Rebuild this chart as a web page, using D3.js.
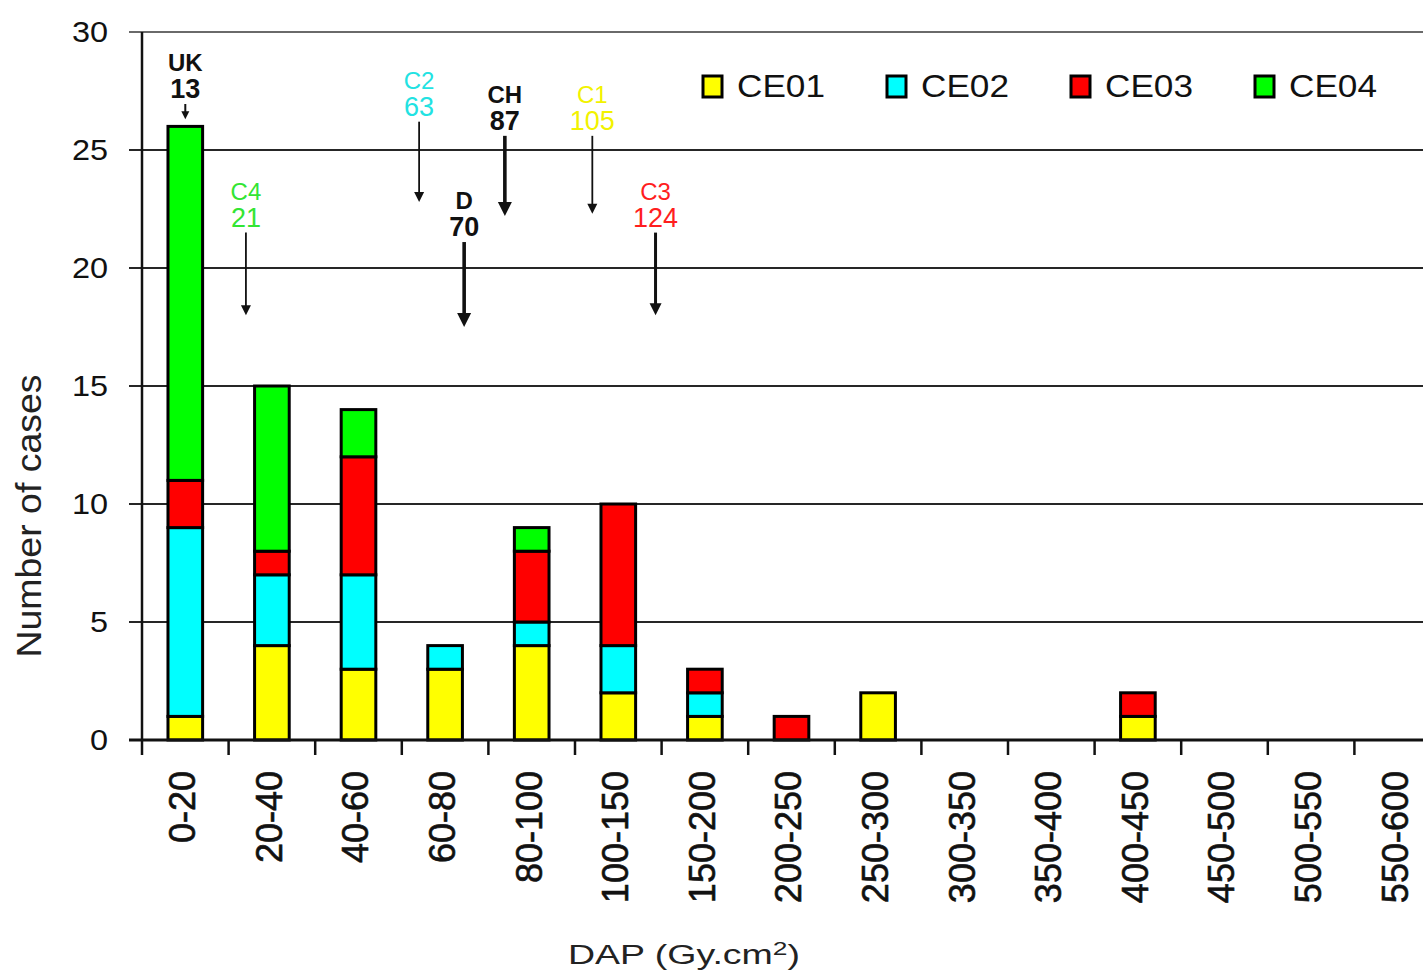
<!DOCTYPE html>
<html>
<head>
<meta charset="utf-8">
<script src="https://cdn.jsdelivr.net/npm/d3@7/dist/d3.min.js"></script>
<style>
  html, body { margin: 0; padding: 0; background: #fff; }
  svg { display: block; }
  text { font-family: "Liberation Sans", Arial, sans-serif; }
</style>
</head>
<body>
<svg id="chart" width="1423" height="977"></svg>
<script>
// DAP bins (Gy.cm²)
const categories = ["0-20", "20-40", "40-60", "60-80", "80-100", "100-150", "150-200",
  "200-250", "250-300", "300-350", "350-400", "400-450", "450-500", "500-550", "550-600"];

// Number of cases per centre
const seriesNames = ["CE01", "CE02", "CE03", "CE04"];
const ce01 = [1, 4, 3, 3, 4, 2, 1, 0, 2, 0, 0, 1, 0, 0, 0];
const ce02 = [8, 3, 4, 1, 1, 2, 1, 0, 0, 0, 0, 0, 0, 0, 0];
const ce03 = [2, 1, 5, 0, 3, 6, 1, 1, 0, 0, 0, 1, 0, 0, 0];
const ce04 = [15, 7, 2, 0, 1, 0, 0, 0, 0, 0, 0, 0, 0, 0, 0];
const seriesColors = ["#ffff00", "#00ffff", "#ff0000", "#00ff00"];

const yTicks = [0, 5, 10, 15, 20, 25, 30];

// National reference levels (code, DAP value)
const refCodes = ["UK", "C4", "C2", "D", "CH", "C1", "C3"];
const refValues = [13, 21, 63, 70, 87, 105, 124];
const refColors = ["#111111", "#33e533", "#22e2e2", "#111111", "#111111", "#f2f200", "#ff1e1e"];

// Where each reference arrow sits: bin, fraction across the bin, arrow extent in case units
const refLayout = [
  { bin: "0-20",    frac: 0.50, yTop: 26.95, yEnd: 26.3, w: 2,   head: 8 },
  { bin: "20-40",   frac: 0.20, yTop: 21.5,  yEnd: 18.0, w: 1.8, head: 10 },
  { bin: "60-80",   frac: 0.20, yTop: 26.2,  yEnd: 22.8, w: 1.8, head: 10 },
  { bin: "60-80",   frac: 0.72, yTop: 21.1,  yEnd: 17.5, w: 3.6, head: 14 },
  { bin: "80-100",  frac: 0.19, yTop: 25.6,  yEnd: 22.2, w: 3.6, head: 14 },
  { bin: "100-150", frac: 0.20, yTop: 25.6,  yEnd: 22.3, w: 1.8, head: 10 },
  { bin: "100-150", frac: 0.93, yTop: 21.5,  yEnd: 18.0, w: 3.0, head: 12 }
];

const svg = d3.select("#chart");
svg.append("rect").attr("width", 1423).attr("height", 977).attr("fill", "#fff");

const plotLeft = 142, plotRight = 1441, plotTop = 32, plotBottom = 740;

const x = d3.scaleBand().domain(categories).range([plotLeft, plotRight])
  .paddingInner(0.6).paddingOuter(0.3);
const y = d3.scaleLinear().domain([0, 30]).range([plotBottom, plotTop]);
const binStart = c => x(c) - x.step() * 0.3;

// Horizontal grid lines with short ticks left of the axis
svg.append("g").selectAll("line").data(yTicks.filter(v => v > 0)).join("line")
  .attr("x1", 129).attr("x2", 1423)
  .attr("y1", d => y(d)).attr("y2", d => y(d))
  .attr("stroke", d => d === 30 ? "#6a6a6a" : "#262626")
  .attr("stroke-width", 2);

// Y tick labels
svg.append("g").selectAll("text").data(yTicks).join("text")
  .attr("transform", d => `translate(108,${y(d) + 10}) scale(1.12,1)`)
  .attr("text-anchor", "end")
  .attr("font-size", 29)
  .attr("fill", "#111")
  .text(d => d);

// Y axis title
svg.append("text")
  .attr("transform", "translate(41,516) rotate(-90)")
  .attr("text-anchor", "middle")
  .attr("font-size", 35)
  .attr("fill", "#222")
  .attr("textLength", 283)
  .attr("lengthAdjust", "spacingAndGlyphs")
  .text("Number of cases");

// Stacked bars
const rows = categories.map((c, i) => ({ cat: c, CE01: ce01[i], CE02: ce02[i], CE03: ce03[i], CE04: ce04[i] }));
const stacked = d3.stack().keys(seriesNames)(rows);
const color = d3.scaleOrdinal().domain(seriesNames).range(seriesColors);

svg.append("g").selectAll("g").data(stacked).join("g")
  .attr("fill", d => color(d.key))
  .selectAll("rect").data(d => d.filter(s => s[1] - s[0] > 0)).join("rect")
  .attr("x", d => x(d.data.cat))
  .attr("width", x.bandwidth())
  .attr("y", d => y(d[1]))
  .attr("height", d => y(d[0]) - y(d[1]))
  .attr("stroke", "#000")
  .attr("stroke-width", 3);

// Y axis line
svg.append("line").attr("x1", plotLeft).attr("x2", plotLeft).attr("y1", plotTop).attr("y2", 755)
  .attr("stroke", "#111").attr("stroke-width", 2.5);

// X axis line
svg.append("line").attr("x1", 129).attr("x2", 1423).attr("y1", plotBottom).attr("y2", plotBottom)
  .attr("stroke", "#111").attr("stroke-width", 3);

// X ticks at bin boundaries
svg.append("g").selectAll("line").data(categories.slice(1)).join("line")
  .attr("x1", d => binStart(d)).attr("x2", d => binStart(d))
  .attr("y1", plotBottom).attr("y2", 755)
  .attr("stroke", "#111").attr("stroke-width", 2.5);

// X tick labels (rotated)
svg.append("g").selectAll("text").data(categories).join("text")
  .attr("transform", d => `translate(${x(d) + x.bandwidth() / 2 - 3},771) rotate(-90)`)
  .attr("text-anchor", "end")
  .attr("dy", "0.36em")
  .attr("font-size", 36)
  .attr("fill", "#111")
  .attr("stroke", "#111")
  .attr("stroke-width", 0.6)
  .text(d => d);

// X axis title
const xt = svg.append("text")
  .attr("x", 568).attr("y", 964)
  .attr("font-size", 27)
  .attr("fill", "#222")
  .attr("textLength", 232)
  .attr("lengthAdjust", "spacingAndGlyphs");
xt.append("tspan").text("DAP (Gy.cm");
xt.append("tspan").attr("dy", -9).attr("font-size", 19).text("2");
xt.append("tspan").attr("dy", 9).text(")");

// Legend
const legend = svg.append("g").selectAll("g").data(seriesNames).join("g")
  .attr("transform", (d, i) => `translate(${703 + i * 184},76)`);
legend.append("rect").attr("width", 19).attr("height", 21)
  .attr("fill", d => color(d)).attr("stroke", "#000").attr("stroke-width", 3);
legend.append("text").attr("x", 34).attr("y", 21)
  .attr("font-size", 31).attr("fill", "#111")
  .attr("textLength", 88).attr("lengthAdjust", "spacingAndGlyphs")
  .text(d => d);

// Reference level annotations with arrows
const refs = refCodes.map((code, i) => ({ code, value: refValues[i], color: refColors[i], ...refLayout[i] }));
const ann = svg.append("g").selectAll("g").data(refs).join("g");
ann.each(function (d) {
  const g = d3.select(this);
  const ax = binStart(d.bin) + d.frac * x.step();
  const py0 = y(d.yTop), py1 = y(d.yEnd);
  const bold = d.color === "#111111";
  g.append("text").attr("x", ax).attr("y", py0 - 6)
    .attr("text-anchor", "middle").attr("font-size", 27)
    .attr("font-weight", bold ? "bold" : "normal")
    .attr("fill", d.color).text(d.value);
  g.append("text").attr("x", ax).attr("y", py0 - 33)
    .attr("text-anchor", "middle").attr("font-size", 24)
    .attr("font-weight", bold ? "bold" : "normal")
    .attr("fill", d.color).text(d.code);
  g.append("line").attr("x1", ax).attr("x2", ax)
    .attr("y1", py0).attr("y2", py1 - d.head + 2)
    .attr("stroke", "#111").attr("stroke-width", d.w);
  g.append("path")
    .attr("d", `M${ax - d.head / 2},${py1 - d.head}L${ax + d.head / 2},${py1 - d.head}L${ax},${py1}Z`)
    .attr("fill", "#111");
});
</script>
</body>
</html>
